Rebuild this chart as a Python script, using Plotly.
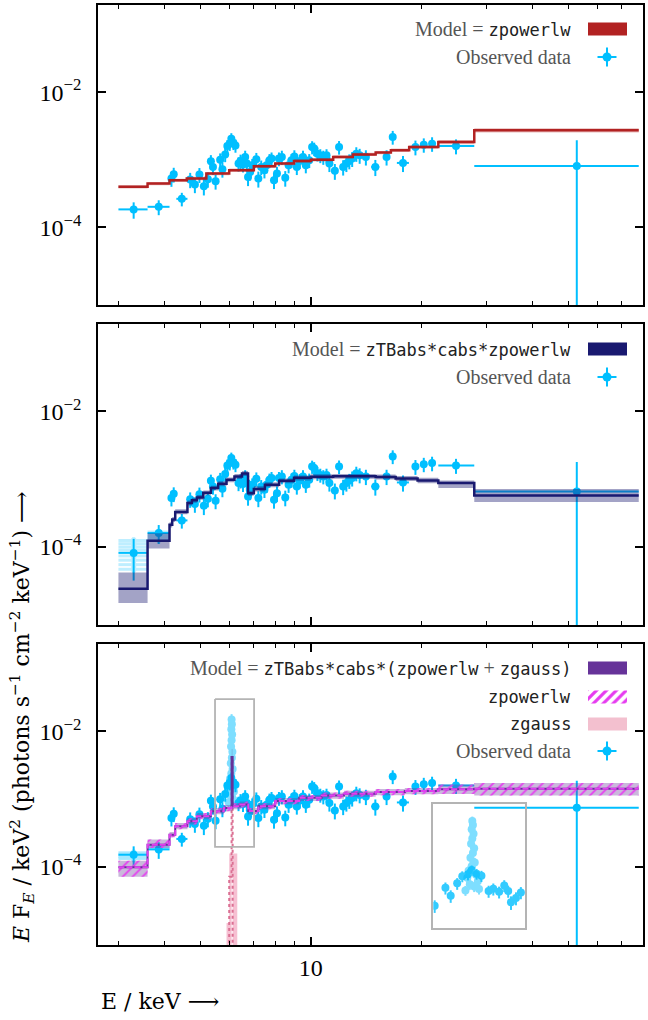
import numpy as np
import plotly.graph_objects as go

W, H = 648, 1020
SERIF = "Liberation Serif"
TITLE_FONT = "DejaVu Serif"
MONO = "DejaVu Sans Mono"
CYAN = "#00bfff"

# observed spectrum, E in keV, EF_E in units of 1e-4 keV^2 (photons s^-1 cm^-2 keV^-1)
energy = [3.30, 3.86, 4.18, 4.24, 4.46, 4.70, 4.84, 4.98, 5.12, 5.25,
          5.35, 5.42, 5.51, 5.67, 5.75, 5.85, 5.93, 6.02, 6.08, 6.16,
          6.24, 6.36, 6.44, 6.54, 6.63, 6.70, 6.75, 6.84, 6.93, 7.11,
          7.20, 7.33, 7.48, 7.58, 7.72, 7.82, 7.94, 8.09, 8.19, 8.34,
          8.52, 8.70, 8.86, 9.02, 9.16, 9.33, 9.52, 9.69, 9.90, 10.08,
          10.21, 10.42, 10.61, 10.81, 11.03, 11.23, 11.62, 11.93, 12.24, 12.49,
          12.72, 12.95, 13.29, 13.57, 14.11, 14.97, 16.06, 16.69, 17.80, 19.24,
          20.27, 21.35, 24.80, 52.80]
energy_err_lo = [0.30, 0.26, 0.03, 0.03, 0.15, 0.04, 0.04, 0.04, 0.04, 0.04,
                 0.04, 0.04, 0.04, 0.04, 0.04, 0.04, 0.04, 0.04, 0.04, 0.04,
                 0.04, 0.05, 0.05, 0.05, 0.05, 0.05, 0.05, 0.05, 0.05, 0.05,
                 0.05, 0.05, 0.05, 0.05, 0.06, 0.06, 0.06, 0.06, 0.06, 0.06,
                 0.06, 0.07, 0.07, 0.07, 0.07, 0.07, 0.07, 0.07, 0.08, 0.08,
                 0.08, 0.08, 0.08, 0.08, 0.09, 0.09, 0.09, 0.10, 0.10, 0.10,
                 0.10, 0.11, 0.12, 0.12, 0.15, 0.38, 0.27, 0.20, 0.67, 0.25,
                 0.25, 0.30, 2.60, 25.0]
energy_err_hi = [0.30, 0.27, 0.03, 0.03, 0.16, 0.04, 0.04, 0.04, 0.04, 0.04,
                 0.04, 0.04, 0.04, 0.04, 0.04, 0.04, 0.04, 0.04, 0.04, 0.04,
                 0.04, 0.05, 0.05, 0.05, 0.05, 0.05, 0.05, 0.05, 0.05, 0.05,
                 0.05, 0.05, 0.05, 0.05, 0.06, 0.06, 0.06, 0.06, 0.06, 0.06,
                 0.06, 0.07, 0.07, 0.07, 0.07, 0.07, 0.07, 0.07, 0.08, 0.08,
                 0.08, 0.08, 0.08, 0.08, 0.09, 0.09, 0.09, 0.10, 0.10, 0.10,
                 0.10, 0.11, 0.12, 0.12, 0.15, 0.38, 0.27, 0.20, 0.67, 0.25,
                 0.25, 0.30, 3.00, 25.0]
flux = [1.84, 2.01, 5.27, 6.10, 2.64, 5.09, 4.30, 6.03, 4.06, 5.15,
        9.49, 7.83, 4.81, 10.0, 7.23, 12.0, 16.0, 17.3, 20.5, 17.7,
        16.3, 8.77, 9.60, 8.48, 11.0, 8.77, 5.57, 6.61, 8.29, 10.2,
        5.27, 7.83, 6.99, 8.29, 9.82, 10.4, 4.98, 6.24, 10.4, 11.0,
        5.39, 8.29, 9.82, 11.2, 7.83, 9.60, 11.0, 8.29, 9.82, 15.4,
        14.6, 12.3, 11.6, 11.0, 11.6, 8.77, 6.84, 15.4, 7.83, 8.77,
        9.60, 10.4, 12.3, 11.6, 11.0, 7.83, 11.0, 21.7, 8.97, 15.4,
        16.7, 17.3, 16.0, 8.10]
flux_err = [0.50, 0.50, 1.30, 1.50, 0.60, 1.30, 1.10, 1.50, 1.10, 1.30,
            2.20, 1.90, 1.20, 2.40, 1.80, 2.80, 3.50, 3.80, 4.20, 3.80,
            3.60, 2.10, 2.30, 2.00, 2.60, 2.10, 1.50, 1.70, 2.00, 2.40,
            1.40, 1.90, 1.70, 2.00, 2.30, 2.40, 1.30, 1.60, 2.40, 2.60,
            1.40, 2.00, 2.30, 2.60, 1.90, 2.30, 2.60, 2.00, 2.30, 3.40,
            3.30, 2.90, 2.70, 2.60, 2.70, 2.20, 1.80, 3.50, 2.00, 2.20,
            2.40, 2.60, 3.00, 2.90, 2.80, 2.10, 2.80, 5.00, 2.40, 3.80,
            4.00, 4.20, 4.00, 11.3]

# unfolded points that change with the absorbed models (first bins, last bin)
p2_flux = list(flux)
p2_flux[0], p2_flux[1], p2_flux[4], p2_flux[-1] = 0.82, 1.61, 2.47, 6.60
p3_flux = list(flux)
p3_flux[0], p3_flux[1], p3_flux[4], p3_flux[-1] = 1.52, 1.82, 2.60, 7.48

# overlapping unfolded samples in the lowest bins
p2_bin1_extra = [1.25, 1.12, 1.00, 0.90, 0.74, 0.64, 0.55, 0.47]
p2_bin2_extra = [1.66, 1.52, 1.40, 1.28]
p3_bin1_extra = [1.62, 1.52, 1.42, 1.34]
p3_bin2_extra = [2.00, 1.93]

# Fe line samples (third fit)
fe_energy = [6.09, 6.10, 6.08, 6.11, 6.09, 6.07, 6.12, 6.10, 6.06, 6.13,
             6.08, 6.03, 6.15, 6.01, 6.18, 6.05, 6.12, 6.20, 5.98]
fe_flux = [150, 128, 108, 90, 74, 60, 50, 41, 34, 28,
           24, 20, 17, 15, 13, 11.5, 10.5, 9.5, 9.0]

# model 1: zpowerlw (bin edges in keV, values per bin)
p1_edges = [3.0, 3.6, 4.13, 4.6, 5.2, 6.0, 7.0, 8.0, 9.0, 10.0, 11.5,
            13.0, 15.0, 16.5, 18.5, 22.2, 27.8, 77.8]
p1_model = [3.97, 4.45, 4.98, 5.27, 6.24, 6.99, 8.00, 8.77, 9.60, 10.0,
            11.0, 12.0, 12.8, 13.8, 15.4, 18.3, 27.2]
p1_lo = [3.75, 4.20, 4.70, 4.95, 5.90, 6.60, 7.55, 8.30, 9.05, 9.45,
         10.4, 11.35, 12.1, 13.0, 14.5, 17.0, 25.3]
p1_hi = [4.20, 4.70, 5.25, 5.60, 6.60, 7.40, 8.45, 9.25, 10.15, 10.6,
         11.6, 12.7, 13.5, 14.6, 16.3, 19.6, 29.2]

# model 2: zTBabs*cabs*zpowerlw
p2_edges = [3.0, 3.6, 4.13, 4.2, 4.28, 4.62, 4.75, 4.9, 5.1, 5.35, 5.6,
            5.9, 6.2, 6.5, 6.75, 7.0, 7.5, 8.2, 9.0, 10.0, 11.5, 13.0,
            15.0, 17.0, 19.5, 22.2, 27.8, 77.8]
p2_model = [0.243, 1.24, 2.13, 2.55, 3.30, 4.46, 4.90, 5.40, 6.30, 7.40,
            8.60, 9.80, 11.0, 12.2, 6.20, 7.20, 8.30, 9.50, 10.5, 10.9,
            11.1, 11.1, 10.8, 10.3, 9.60, 8.77, 5.77]
p2_lo = [0.149, 0.95, 1.95, 2.35, 3.05, 4.10, 4.50, 4.97, 5.80, 6.80,
         7.90, 9.00, 10.1, 11.2, 5.70, 6.60, 7.60, 8.70, 9.60, 10.0,
         10.2, 10.2, 9.90, 9.40, 8.70, 7.40, 4.60]
p2_hi = [0.420, 1.60, 2.32, 2.78, 3.60, 4.85, 5.32, 5.85, 6.85, 8.05,
         9.35, 10.6, 11.9, 13.2, 6.75, 7.85, 9.00, 10.3, 11.4, 11.8,
         12.0, 12.0, 11.7, 11.2, 10.5, 9.60, 7.20]

# model 3: zTBabs*cabs*(zpowerlw+zgauss) and its components
p3_edges = [3.0, 3.6, 4.13, 4.28, 4.62, 4.9, 5.35, 5.8, 6.09, 6.13, 6.4,
            6.76, 7.2, 8.0, 9.3, 10.7, 12.3, 15.0, 18.0, 22.2, 27.8, 77.8]
p3_model = [0.99, 2.14, 3.00, 4.00, 4.74, 5.62, 6.67, 7.40, 42.0, 7.90,
            8.40, 6.70, 7.90, 9.40, 10.5, 11.4, 12.1, 12.8, 13.2, 14.0, 14.3]
p3_pl = [0.99, 2.14, 3.00, 4.00, 4.74, 5.62, 6.67, 7.40, 7.60, 7.90,
         8.40, 6.70, 7.90, 9.40, 10.5, 11.4, 12.1, 12.8, 13.2, 14.0, 14.3]
p3_lo = [0.72, 1.91, 2.75, 3.60, 4.25, 5.05, 6.00, 6.65, 6.85, 7.10,
         7.55, 6.00, 7.10, 8.45, 9.45, 10.2, 10.9, 11.5, 11.8, 12.0, 11.4]
p3_hi = [1.24, 2.54, 3.30, 4.45, 5.25, 6.25, 7.40, 8.20, 8.45, 8.75,
         9.30, 7.45, 8.75, 10.4, 11.6, 12.6, 13.4, 14.2, 14.7, 16.5, 17.4]
gauss_edges = [5.90, 6.00, 6.09, 6.13, 6.31]
gauss_model = [1e-4, 0.72, 42.0, 1e-4]
gauss_lo = [1e-5, 1e-3, 30.0, 1e-5]
gauss_hi = [0.15, 1.58, 55.0, 1.58]

# zoomed view around the line
INSET_E = (5.49, 7.01)
INSET_F = (1.98e-4, 3.0e-2)

E_RANGE = [np.log10(2.64), np.log10(79.9)]
F_RANGE = [-5.15, -0.71]


def steps(edges, vals):
    return list(edges), [v * 1e-4 for v in vals] + [vals[-1] * 1e-4]


def data_trace(e, f, ferr, elo, ehi, xa, ya, opacity=1.0, size=8):
    return go.Scatter(
        x=e, y=np.array(f) * 1e-4, mode="markers",
        marker=dict(color=CYAN, size=size, line=dict(width=0)),
        error_x=dict(type="data", symmetric=False, array=ehi, arrayminus=elo,
                     color=CYAN, thickness=2, width=0),
        error_y=dict(type="data", array=np.array(ferr) * 1e-4,
                     color=CYAN, thickness=2, width=0),
        opacity=opacity, xaxis=xa, yaxis=ya, showlegend=False, hoverinfo="skip",
    )


def extra_trace(e, elo, ehi, fvals, xa, ya, opacity):
    n = len(fvals)
    return go.Scatter(
        x=[e] * n, y=np.array(fvals) * 1e-4, mode="markers",
        marker=dict(color=CYAN, size=6),
        error_x=dict(type="data", symmetric=False, array=[ehi] * n,
                     arrayminus=[elo] * n, color=CYAN, thickness=3, width=0),
        error_y=dict(type="data", array=np.array(fvals) * 0.12e-4,
                     color=CYAN, thickness=3, width=0),
        opacity=opacity, xaxis=xa, yaxis=ya, showlegend=False, hoverinfo="skip",
    )


def band(edges, lo, hi, xa, ya, color, pattern=None):
    x, yhi = steps(edges, hi)
    _, ylo = steps(edges, lo)
    top = go.Scatter(x=x, y=yhi, mode="lines", line=dict(width=0, shape="hv"),
                     xaxis=xa, yaxis=ya, showlegend=False, hoverinfo="skip")
    bottom = go.Scatter(x=x, y=ylo, mode="lines", line=dict(width=0, shape="hv"),
                        fill="tonexty", fillcolor=color,
                        xaxis=xa, yaxis=ya, showlegend=False, hoverinfo="skip")
    if pattern:
        bottom.fillpattern = pattern
    return [top, bottom]


def step_line(edges, vals, xa, ya, color, width=2.5, dash="solid"):
    x, y = steps(edges, vals)
    return go.Scatter(x=x, y=y, mode="lines",
                      line=dict(color=color, width=width, shape="hv", dash=dash),
                      xaxis=xa, yaxis=ya, showlegend=False, hoverinfo="skip")


fig = go.Figure()

# panel 1
fig.add_trace(data_trace(energy, flux, flux_err, energy_err_lo, energy_err_hi, "x", "y"))
for t in band(p1_edges, p1_lo, p1_hi, "x", "y", "rgba(178,34,34,0.3)"):
    fig.add_trace(t)
fig.add_trace(step_line(p1_edges, p1_model, "x", "y", "#b22222"))

# panel 2
fig.add_trace(extra_trace(energy[0], energy_err_lo[0], energy_err_hi[0], p2_bin1_extra, "x2", "y2", 0.25))
fig.add_trace(extra_trace(energy[1], energy_err_lo[1], energy_err_hi[1], p2_bin2_extra, "x2", "y2", 0.3))
fig.add_trace(data_trace(energy, p2_flux, flux_err, energy_err_lo, energy_err_hi, "x2", "y2"))
for t in band(p2_edges, p2_lo, p2_hi, "x2", "y2", "rgba(25,25,112,0.4)"):
    fig.add_trace(t)
fig.add_trace(step_line(p2_edges, p2_model, "x2", "y2", "#191970"))

# panel 3
fig.add_trace(extra_trace(energy[0], energy_err_lo[0], energy_err_hi[0], p3_bin1_extra, "x3", "y3", 0.35))
fig.add_trace(extra_trace(energy[1], energy_err_lo[1], energy_err_hi[1], p3_bin2_extra, "x3", "y3", 0.35))
for t in band(gauss_edges, gauss_lo, gauss_hi, "x3", "y3", "rgba(240,150,180,0.6)"):
    fig.add_trace(t)
fig.add_trace(step_line(gauss_edges, gauss_model, "x3", "y3", "#db7093", width=2, dash="dot"))
fig.add_trace(data_trace(energy, p3_flux, flux_err, energy_err_lo, energy_err_hi, "x3", "y3"))
fig.add_trace(data_trace(fe_energy, fe_flux, np.array(fe_flux) * 0.2,
                         [0.03] * len(fe_energy), [0.03] * len(fe_energy), "x3", "y3", opacity=0.5))
for t in band(p3_edges, p3_lo, p3_hi, "x3", "y3", "rgba(102,51,153,0.35)"):
    fig.add_trace(t)
for t in band(p3_edges, p3_lo, p3_hi, "x3", "y3", "rgba(0,0,0,0)",
              pattern=dict(shape="/", fgcolor="#e63cf0", bgcolor="rgba(0,0,0,0)",
                           size=7, solidity=0.25, fillmode="replace")):
    fig.add_trace(t)
fig.add_trace(step_line(p3_edges, p3_model, "x3", "y3", "#663399", width=2))
fig.add_trace(step_line(p3_edges, p3_pl, "x3", "y3", "#e040f0", width=2, dash="6px,2px"))

# box marking the zoomed region
fig.add_trace(go.Scatter(
    x=[INSET_E[0], INSET_E[1], INSET_E[1], INSET_E[0], INSET_E[0]],
    y=[INSET_F[1], INSET_F[1], INSET_F[0], INSET_F[0], INSET_F[1]],
    mode="lines", line=dict(color="#b4b4b4", width=1.8),
    xaxis="x3", yaxis="y3", showlegend=False, hoverinfo="skip"))

# inset
fig.add_trace(data_trace(energy, p3_flux, flux_err, energy_err_lo, energy_err_hi, "x4", "y4", opacity=0.8))
fig.add_trace(data_trace(fe_energy, fe_flux, np.array(fe_flux) * 0.2,
                         [0.03] * len(fe_energy), [0.03] * len(fe_energy), "x4", "y4", opacity=0.5))


def mono(s):
    return '<span style="font-family:%s;font-size:17px;color:#222">%s</span>' % (MONO, s)


# hand-made legends (symbol on the right of the label)
legend_rows = [
    (29, "Model = " + mono("zpowerlw"), "solid", "#b22222"),
    (57, "Observed data", "data", None),
    (349, "Model = " + mono("zTBabs*cabs*zpowerlw"), "solid", "#191970"),
    (377, "Observed data", "data", None),
    (668, "Model = " + mono("zTBabs*cabs*(zpowerlw") + " + " + mono("zgauss)"), "solid", "#663399"),
    (697, mono("zpowerlw"), "hatch", "#e63cf0"),
    (724, mono("zgauss"), "solid", "#f3c0cf"),
    (751, "Observed data", "data", None),
]

annotations = []
for ypx, label, kind, color in legend_rows:
    annotations.append(dict(
        text=label, x=573 / W, y=1 - ypx / H, xref="paper", yref="paper",
        xanchor="right", yanchor="middle", showarrow=False,
        font=dict(family=SERIF, size=20, color="#555")))
    if kind == "data":
        fig.add_trace(go.Scatter(
            x=[607], y=[ypx], mode="markers", marker=dict(color=CYAN, size=9),
            error_x=dict(type="constant", value=9.5, color=CYAN, thickness=2, width=0),
            error_y=dict(type="constant", value=9.5, color=CYAN, thickness=2, width=0),
            xaxis="x5", yaxis="y5", showlegend=False, hoverinfo="skip"))
    else:
        sw = go.Scatter(
            x=[588, 627, 627, 588, 588], y=[ypx - 6.5, ypx - 6.5, ypx + 6.5, ypx + 6.5, ypx - 6.5],
            mode="lines", line=dict(width=0), fill="toself", fillcolor=color,
            xaxis="x5", yaxis="y5", showlegend=False, hoverinfo="skip")
        if kind == "hatch":
            sw.fillcolor = "rgba(0,0,0,0)"
            sw.fillpattern = dict(shape="/", fgcolor=color, bgcolor="white",
                                  size=7, solidity=0.45, fillmode="replace")
        fig.add_trace(sw)

annotations.append(dict(
    text="<i>E</i> F<sub><i>E</i></sub> / keV<sup>2</sup> (photons s<sup>−1</sup> "
         "cm<sup>−2</sup> keV<sup>−1</sup>) ⟶",
    x=22 / W, y=1 - 945 / H, xref="paper", yref="paper", textangle=-90,
    xanchor="center", yanchor="bottom", showarrow=False,
    font=dict(family=TITLE_FONT, size=22, color="black")))
annotations.append(dict(
    text="E / keV ⟶", x=99 / W, y=1 - 1001 / H, xref="paper", yref="paper",
    xanchor="left", yanchor="middle", showarrow=False,
    font=dict(family=TITLE_FONT, size=22, color="black")))

minor_e = [3, 4, 5, 6, 7, 8, 9, 20, 30, 40, 50, 60, 70]
x_dom = [98 / W, 643 / W]
panels = [(5, 305), (324, 625), (644, 945)]


def x_axis(anchor, labels):
    return dict(type="log", range=E_RANGE, domain=x_dom, anchor=anchor,
                tickvals=[10], ticktext=["10"], showticklabels=labels,
                ticks="inside", ticklen=8, tickwidth=1.5, tickcolor="black",
                minor=dict(tickvals=minor_e, ticks="inside", ticklen=4,
                           tickwidth=1.2, tickcolor="black"),
                mirror="allticks", showline=True, linewidth=1.8, linecolor="black",
                showgrid=False, zeroline=False, automargin=False,
                tickfont=dict(family=SERIF, size=24, color="black"))


def y_axis(anchor, top, bottom):
    return dict(type="log", range=F_RANGE, domain=[1 - bottom / H, 1 - top / H],
                anchor=anchor, tickvals=[1e-4, 1e-2],
                ticktext=["10<sup>−4</sup>", "10<sup>−2</sup>"],
                ticks="inside", ticklen=8, tickwidth=1.5, tickcolor="black",
                ticklabelstandoff=10, automargin=False,
                mirror="allticks", showline=True, linewidth=1.8, linecolor="black",
                showgrid=False, zeroline=False,
                tickfont=dict(family=SERIF, size=24, color="black"))


fig.update_layout(
    width=W, height=H,
    margin=dict(l=0, r=0, t=0, b=0),
    paper_bgcolor="white", plot_bgcolor="rgba(0,0,0,0)",
    showlegend=False,
    xaxis=x_axis("y", False),
    yaxis=y_axis("x", *panels[0]),
    xaxis2=x_axis("y2", False),
    yaxis2=y_axis("x2", *panels[1]),
    xaxis3=x_axis("y3", True),
    yaxis3=y_axis("x3", *panels[2]),
    xaxis4=dict(type="log", range=[np.log10(INSET_E[0]), np.log10(INSET_E[1])],
                domain=[433.3 / W, 525.2 / W], anchor="y4",
                showticklabels=False, ticks="", showgrid=False, zeroline=False,
                showline=True, mirror=True, linewidth=1.8, linecolor="#b4b4b4"),
    yaxis4=dict(type="log", range=[np.log10(INSET_F[0]), np.log10(INSET_F[1])],
                domain=[1 - 927.7 / H, 1 - 804 / H], anchor="x4",
                showticklabels=False, ticks="", showgrid=False, zeroline=False,
                showline=True, mirror=True, linewidth=1.8, linecolor="#b4b4b4"),
    xaxis5=dict(domain=[0, 1], range=[0, W], visible=False, anchor="y5", fixedrange=True),
    yaxis5=dict(domain=[0, 1], range=[H, 0], visible=False, anchor="x5", fixedrange=True),
    annotations=annotations,
)

# the page body has a default 8px margin; drop it so the figure sits at the window corner
fig.write_html("out.html", config={"displayModeBar": False},
               post_script="document.body.style.margin = '0';")
